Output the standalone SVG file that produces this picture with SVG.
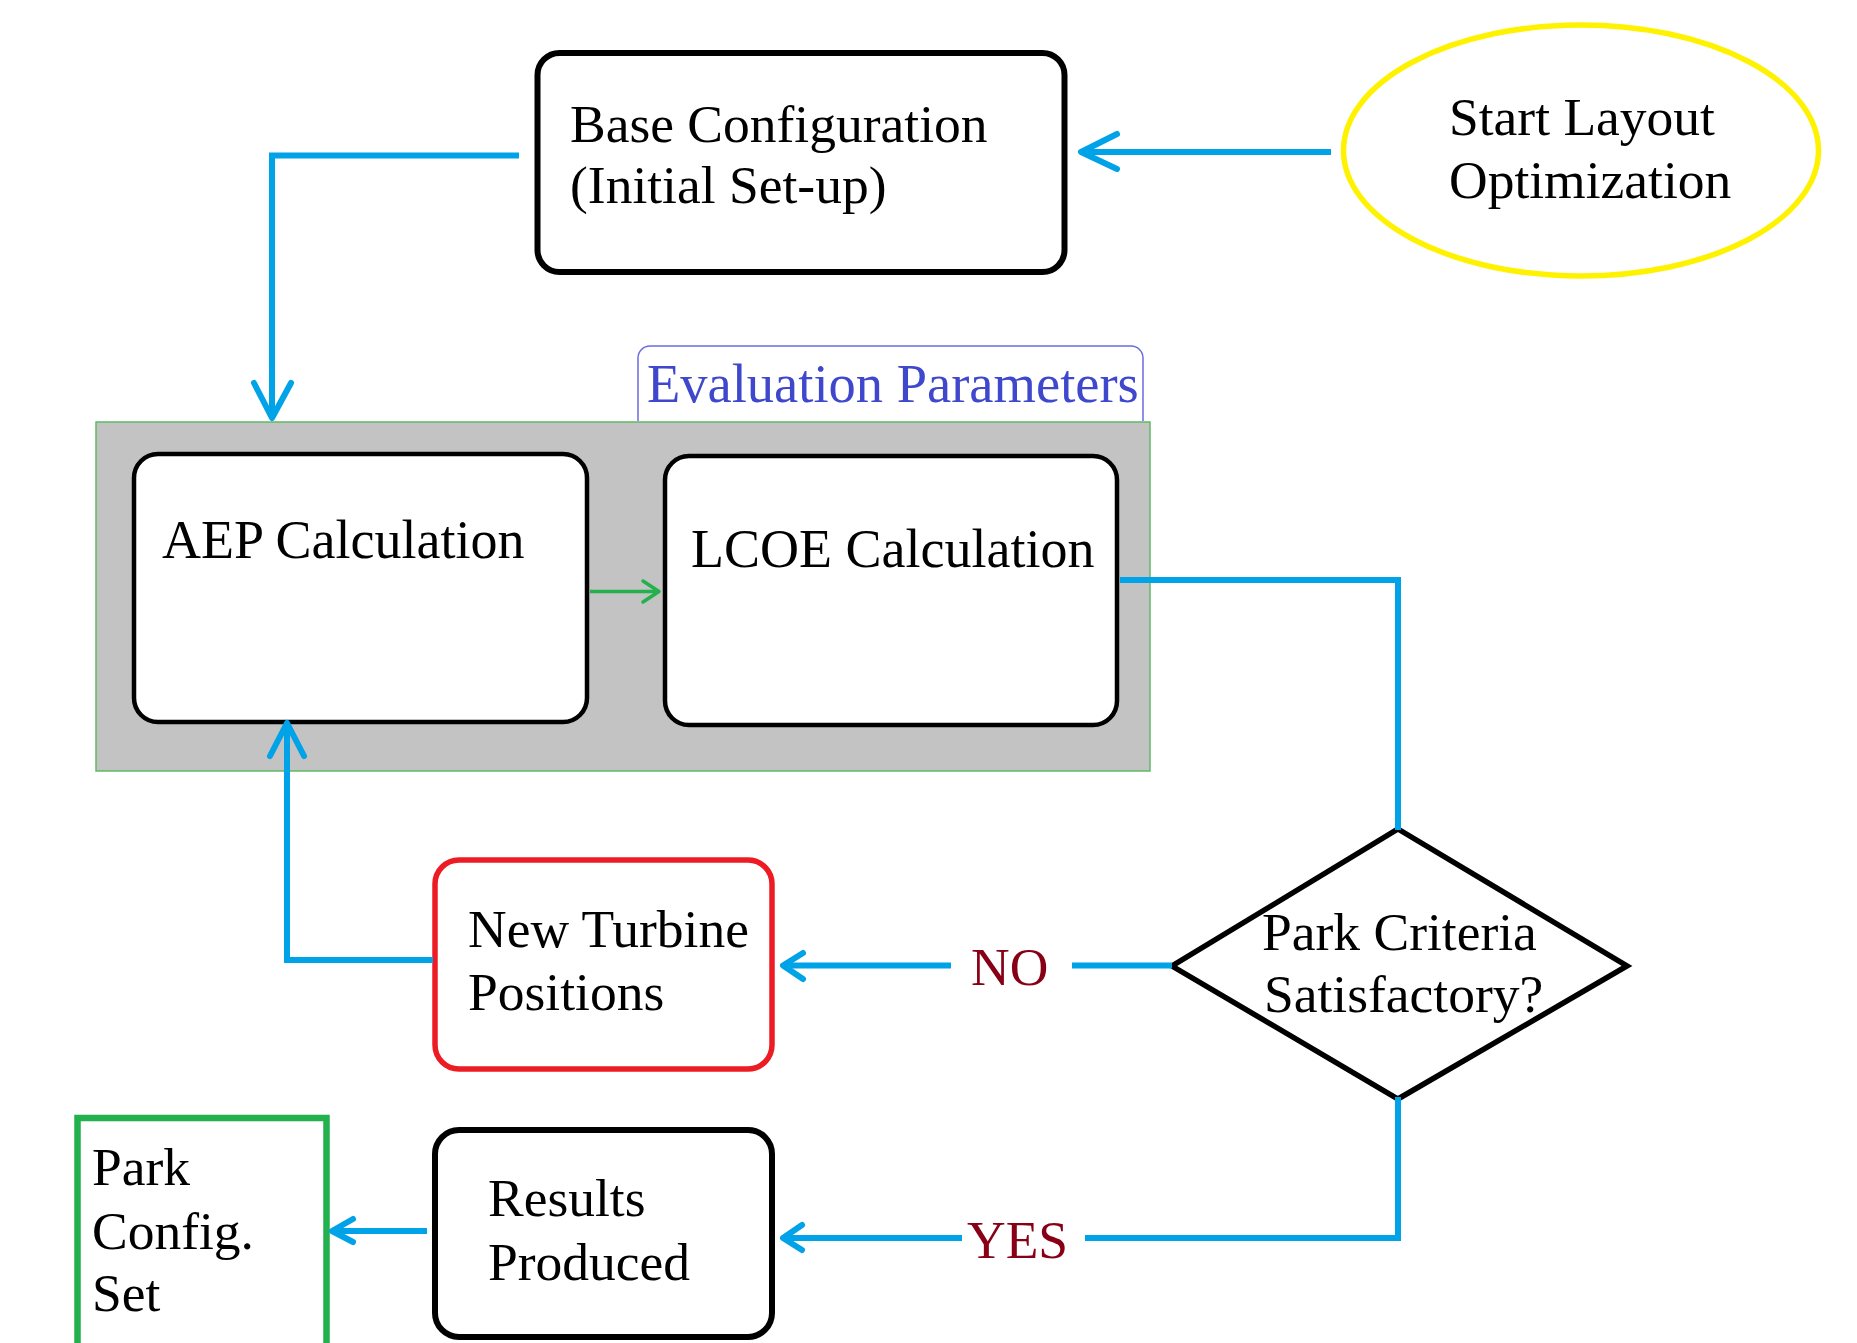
<svg xmlns="http://www.w3.org/2000/svg" width="1857" height="1343" viewBox="0 0 1857 1343">
<style>
  text { font-family: "Liberation Serif", "Times New Roman", serif; font-size: 53.5px; fill: #000; }
  .box { fill: #fff; stroke: #000; stroke-width: 6; }
  .calc { fill: #fff; stroke: #000; stroke-width: 4.5; }
  .conn { fill: none; stroke: #00A2E8; stroke-width: 6; stroke-linejoin: miter; }
  .head { fill: none; stroke: #00A2E8; stroke-width: 6; stroke-linecap: round; stroke-linejoin: round; }
  .ghead { fill: none; stroke: #22B14C; stroke-width: 3.5; stroke-linecap: round; stroke-linejoin: round; }
  .lbl { fill: #880015; }
  .eval { fill: #3F48CC; font-size: 54.5px; }
</style>
<rect width="1857" height="1343" fill="#fff"/>

<g id="evaluation-parameters">
  <path d="M638,421 V358 A12,12 0 0 1 650,346 H1131 A12,12 0 0 1 1143,358 V421" fill="#fff" stroke="#6B6BE0" stroke-width="1.5"/>
  <text class="eval" x="647" y="402">Evaluation Parameters</text>
  <rect x="96" y="422" width="1054" height="349" fill="#C3C3C3" stroke="#5DBB63" stroke-width="1.5"/>
</g>

<g id="start">
  <ellipse cx="1581" cy="150.5" rx="237.5" ry="125.5" fill="#fff" stroke="#FFF200" stroke-width="5.5"/>
  <text x="1449" y="135">Start Layout</text>
  <text x="1449" y="198">Optimization</text>
</g>

<g id="base-config">
  <rect class="box" x="537.5" y="53" width="527" height="219" rx="22"/>
  <text x="570" y="142">Base Configuration</text>
  <text x="570" y="203">(Initial Set-up)</text>
</g>

<g id="aep">
  <rect class="calc" x="134" y="454" width="453" height="268" rx="24"/>
  <text x="162" y="558" style="font-size:54px">AEP Calculation</text>
</g>

<g id="lcoe">
  <rect class="calc" x="665" y="456" width="452" height="269" rx="24"/>
  <text x="691" y="567" style="font-size:54px">LCOE Calculation</text>
</g>

<g id="decision">
  <polygon points="1398,829 1627,966 1398,1099 1172,966" fill="#fff" stroke="#000" stroke-width="5.5"/>
  <text x="1262" y="950">Park Criteria</text>
  <text x="1264" y="1012">Satisfactory?</text>
</g>

<g id="new-turbine">
  <rect x="435" y="860" width="337" height="209" rx="24" fill="#fff" stroke="#ED1C24" stroke-width="5.5"/>
  <text x="468" y="947">New Turbine</text>
  <text x="468" y="1010">Positions</text>
</g>

<g id="results">
  <rect class="box" x="435" y="1130" width="337" height="207" rx="24"/>
  <text x="488" y="1216">Results</text>
  <text x="488" y="1280">Produced</text>
</g>

<g id="park-config">
  <rect x="77.5" y="1118" width="249" height="260" fill="#fff" stroke="#22B14C" stroke-width="6.5"/>
  <text x="92" y="1185">Park</text>
  <text x="92" y="1249">Config.</text>
  <text x="92" y="1311">Set</text>
</g>

<g id="connectors">
  <path class="conn" d="M1331,152 H1083"/>
  <path class="head" d="M1117,134 L1081,152 L1117,169"/>
  <path class="conn" d="M519,155.5 H272 V417"/>
  <path class="head" d="M254,383 L272,418 L291,383"/>
  <path d="M590,591.5 H657" fill="none" stroke="#22B14C" stroke-width="3.5"/>
  <path class="ghead" d="M643,581 L659,591.5 L643,602"/>
  <path class="conn" d="M1120,580 H1398 V830"/>
  <path class="conn" d="M1172,965.5 H1072"/>
  <path class="conn" d="M951,965.5 H785"/>
  <path class="head" d="M803,953 L783,965.5 L803,979"/>
  <text class="lbl" x="971" y="985">NO</text>
  <path class="conn" d="M433,960 H287 V726"/>
  <path class="head" d="M270,756 L287,723 L304,756"/>
  <path class="conn" d="M1398,1097 V1238 H1085"/>
  <path class="conn" d="M962,1238 H785"/>
  <path class="head" d="M802,1225 L783,1238 L802,1250"/>
  <text class="lbl" x="967" y="1258">YES</text>
  <path class="conn" d="M427,1231 H334"/>
  <path class="head" d="M353,1219 L332,1231 L353,1242"/>
</g>
</svg>
